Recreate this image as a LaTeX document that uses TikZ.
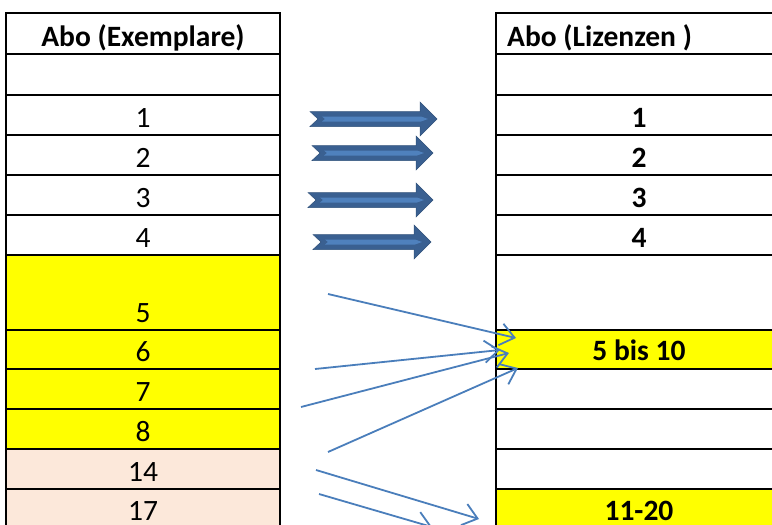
\documentclass[tikz,border=0pt]{standalone}
\usepackage{fontspec}
\setmainfont{Carlito}
\usetikzlibrary{arrows.meta}
\definecolor{cellyellow}{RGB}{255,255,0}
\definecolor{cellpeach}{RGB}{252,232,218}
\definecolor{arrdark}{RGB}{58,96,145}
\definecolor{arrlight}{RGB}{79,129,189}
\definecolor{thinblue}{RGB}{74,126,187}
\tikzset{
  rowline/.style={line width=2.1pt},
  sideline/.style={line width=2.3pt},
  frame/.style={line width=2.9pt},
  numtxt/.style={anchor=base, inner sep=0pt, text depth=0pt, font=\fontsize{29.5}{34}\selectfont},
  numbold/.style={anchor=base, inner sep=0pt, text depth=0pt, font=\fontsize{29.5}{34}\selectfont\bfseries},
  thinarrow/.style={draw=thinblue, line width=1.8pt,
    -{Straight Barb[length=14pt,width=22pt,line width=1.8pt]}},
  blockbody/.style={fill=arrdark, draw=arrdark!85!black, line width=0.5pt},
  blockstripe/.style={fill=arrlight},
}
% #1 tail x, #2 tip x, #3 head base x, #4 centre y
\newcommand\blockarrow[4]{%
  \path[blockbody] (#1,#4-7.5) -- (#3,#4-7.5) -- (#3,#4-17) -- (#2,#4)
     -- (#3,#4+17) -- (#3,#4+7.5) -- (#1,#4+7.5) -- (#1+8,#4) -- cycle;
  \path[blockstripe] (#1+12,#4-2.5) -- (#2-16,#4-2.5) -- (#2-9,#4)
     -- (#2-16,#4+2.5) -- (#1+12,#4+2.5) -- (#1+15,#4) -- cycle;
}
\begin{document}
\begin{tikzpicture}[x=1pt,y=-1pt]
\useasboundingbox (0,0) rectangle (772,525);
\clip (0,0) rectangle (772,525);
\fill[white] (0,0) rectangle (772,525);

% ---- left table fills
\fill[cellyellow] (6,255) rectangle (280,449);
\fill[cellpeach] (6,449) rectangle (280,530);
% ---- right table fills
\fill[cellyellow] (496,330) rectangle (790,369);
\fill[cellyellow] (496,489) rectangle (790,530);

% ---- row lines
\foreach \yy in {95,135,175,215,255,330,369,409,449,489}{
  \draw[rowline] (6,\yy) -- (280,\yy);
  \draw[rowline] (496,\yy) -- (790,\yy);
}
% ---- vertical lines
\draw[sideline] (6,13) -- (6,530);
\draw[sideline] (280,13) -- (280,530);
\draw[sideline] (496,13) -- (496,530);
% ---- header frames
\draw[frame] (6,13) rectangle (280,54);
\draw[frame] (790,13) -- (496,13) -- (496,54) -- (790,54);

% ---- left texts
\node[numbold] (hL) at (143,46) {Abo (Exemplare)};
\node[numtxt] (l1) at (143,127) {1};
\node[numtxt] (l2) at (143,167) {2};
\node[numtxt] (l3) at (143,207) {3};
\node[numtxt] (l4) at (143,247) {4};
\node[numtxt] (l5) at (143,322) {5};
\node[numtxt] (l6) at (143,361) {6};
\node[numtxt] (l7) at (143,401) {7};
\node[numtxt] (l8) at (143,441) {8};
\node[numtxt] (l14) at (143,481) {14};
\node[numtxt] (l17) at (143,520) {17};

% ---- right texts
\node[numbold, anchor=base west] (hR) at (507,46) {Abo (Lizenzen )};
\node[numbold] (r1) at (639,127) {1};
\node[numbold] (r2) at (639,167) {2};
\node[numbold] (r3) at (639,207) {3};
\node[numbold] (r4) at (639,247) {4};
\node[numbold] (r5) at (639,360) {5 bis 10};
\node[numbold] (r11) at (639,520) {11-20};

% ---- block arrows
\blockarrow{310}{437}{420}{119}
\blockarrow{312}{433}{416}{153}
\blockarrow{308}{433}{416}{200}
\blockarrow{313}{431}{414}{242}

% ---- thin arrows
\coordinate (s1) at (328,294); \coordinate (t1) at (516,338);
\coordinate (s2) at (315,369); \coordinate (t2) at (500,350);
\coordinate (s3) at (301,407); \coordinate (t3) at (509,353);
\coordinate (s4) at (328,452); \coordinate (t4) at (518,368);
\coordinate (s5) at (316,470); \coordinate (t5) at (479,519);
\coordinate (s6) at (319,494); \coordinate (t6) at (432,527);
\foreach \i in {1,...,6}{\draw[thinarrow] (s\i) -- (t\i);}
\end{tikzpicture}
\end{document}
